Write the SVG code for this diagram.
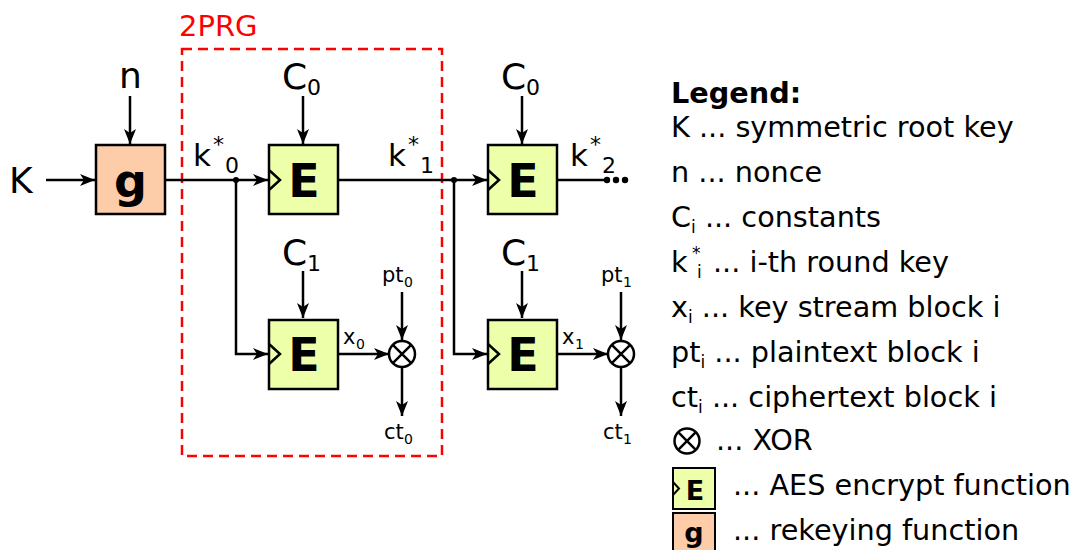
<svg xmlns="http://www.w3.org/2000/svg" width="1075" height="550" viewBox="0 0 1075 550">
<style>
text{font-family:"DejaVu Sans","Liberation Sans",sans-serif;fill:#000}
.big{font-size:36px}
.mid{font-size:31px}
.sm{font-size:21px}
.sub{font-size:22px}
.ssub{font-size:14px}
.leg{font-size:28.7px}
.lsub{font-size:17px}
.bold{font-weight:bold}
.ebox{fill:#eeffaa;stroke:#000;stroke-width:2.5}
.gbox{fill:#fdcca8;stroke:#000;stroke-width:2.5}
.clk{fill:none;stroke:#000;stroke-width:2.5}
.wire{fill:none;stroke:#000;stroke-width:2.5}
.arr{fill:none;stroke:#000;stroke-width:2.5;marker-end:url(#ah)}
.xor{fill:#fff;stroke:#000;stroke-width:2.5}
</style>
<defs>
<marker id="ah" markerWidth="16" markerHeight="12" refX="15" refY="6" orient="auto" markerUnits="userSpaceOnUse">
<path d="M0,0 L15,6 L0,12 L4,6 Z" fill="#000"/>
</marker>
</defs>

<g id="prg-frame">
<rect x="182" y="49" width="260" height="407" fill="none" stroke="#ff0000" stroke-width="2.5" stroke-dasharray="10,6"/>
<text x="179" y="36" style="font-size:29px;fill:#ff0000">2PRG</text>
</g>

<g id="connectors">
<path class="arr" d="M46,180 H95"/>
<path class="arr" d="M130,96 V144"/>
<path class="arr" d="M166,180 H268"/>
<path class="arr" d="M236,180 V354 H268"/>
<path class="arr" d="M303,96 V144"/>
<path class="arr" d="M303,271 V318"/>
<path class="wire" d="M339,180 H454"/>
<path class="arr" d="M454,180 H487"/>
<path class="arr" d="M454,180 V354 H487"/>
<path class="arr" d="M522,96 V144"/>
<path class="arr" d="M522,271 V318"/>
<path class="wire" d="M558,180 H604"/>
<path class="arr" d="M339,354 H389"/>
<path class="arr" d="M402,292 V340"/>
<path class="arr" d="M402,367 V416"/>
<path class="arr" d="M558,354 H608"/>
<path class="arr" d="M621,292 V340"/>
<path class="arr" d="M621,367 V416"/>
<circle cx="236" cy="180" r="3" fill="#000"/>
<circle cx="454" cy="180" r="3" fill="#000"/>
<circle cx="607" cy="180" r="3.2" fill="#000"/>
<circle cx="616" cy="180" r="3.2" fill="#000"/>
<circle cx="625" cy="180" r="3.2" fill="#000"/>
</g>

<g id="labels">
<text class="big" x="9" y="193">K</text>
<text class="big" x="119" y="88">n</text>
<text class="mid" x="193" y="166">k</text><text class="sub" x="213" y="152">*</text><text class="sub" x="225" y="173">0</text>
<text class="mid" x="388" y="166">k</text><text class="sub" x="408" y="152">*</text><text class="sub" x="420" y="173">1</text>
<text class="mid" x="570" y="166">k</text><text class="sub" x="590" y="152">*</text><text class="sub" x="602" y="173">2</text>
<text class="big" x="282" y="89">C</text><text class="sub" x="307" y="95">0</text>
<text class="big" x="282" y="265">C</text><text class="sub" x="307" y="271">1</text>
<text class="big" x="501" y="89">C</text><text class="sub" x="526" y="95">0</text>
<text class="big" x="501" y="265">C</text><text class="sub" x="526" y="271">1</text>
<text class="sm" x="343" y="344">x</text><text class="ssub" x="356" y="349">0</text>
<text class="sm" x="562" y="344">x</text><text class="ssub" x="575" y="349">1</text>
<text class="sm" x="382" y="282">pt</text><text class="ssub" x="404" y="287">0</text>
<text class="sm" x="601" y="282">pt</text><text class="ssub" x="623" y="287">1</text>
<text class="sm" x="384" y="439">ct</text><text class="ssub" x="404" y="444">0</text>
<text class="sm" x="603" y="439">ct</text><text class="ssub" x="623" y="444">1</text>
</g>

<g id="g-node">
<rect class="gbox" x="96" y="145" width="69" height="69"/>
<text x="130.5" y="197" text-anchor="middle" class="bold" style="font-size:46px">g</text>
</g>

<g id="E-0-0">
<rect class="ebox" x="269" y="145" width="69" height="69"/>
<path class="clk" d="M269,170 L280,180 L269,190"/>
<text x="304" y="197" text-anchor="middle" class="bold" style="font-size:46px">E</text>
</g>
<g id="E-0-1">
<rect class="ebox" x="269" y="320" width="69" height="69"/>
<path class="clk" d="M269,344 L280,354 L269,364"/>
<text x="304" y="371" text-anchor="middle" class="bold" style="font-size:46px">E</text>
</g>
<g id="E-1-0">
<rect class="ebox" x="488" y="145" width="69" height="69"/>
<path class="clk" d="M488,170 L499,180 L488,190"/>
<text x="523" y="197" text-anchor="middle" class="bold" style="font-size:46px">E</text>
</g>
<g id="E-1-1">
<rect class="ebox" x="488" y="320" width="69" height="69"/>
<path class="clk" d="M488,344 L499,354 L488,364"/>
<text x="523" y="371" text-anchor="middle" class="bold" style="font-size:46px">E</text>
</g>

<g id="xor-0">
<circle class="xor" cx="402" cy="354" r="13"/>
<path class="wire" d="M392.8,344.8 L411.2,363.2 M411.2,344.8 L392.8,363.2"/>
</g>
<g id="xor-1">
<circle class="xor" cx="621" cy="354" r="13"/>
<path class="wire" d="M611.8,344.8 L630.2,363.2 M630.2,344.8 L611.8,363.2"/>
</g>

<g id="legend">
<text class="leg bold" x="671" y="103">Legend:</text>
<text class="leg" x="671" y="137">K ... symmetric root key</text>
<text class="leg" x="671" y="182">n ... nonce</text>
<text class="leg" x="671" y="227">C<tspan class="lsub" dy="6">i</tspan><tspan dy="-6"> ... constants</tspan></text>
<text class="leg" x="671" y="272">k</text>
<text class="lsub" x="692" y="259">*</text>
<text class="lsub" x="697" y="278">i</text>
<text class="leg" x="713" y="272">... i-th round key</text>
<text class="leg" x="671" y="317">x<tspan class="lsub" dy="6">i</tspan><tspan dy="-6"> ... key stream block i</tspan></text>
<text class="leg" x="671" y="362">pt<tspan class="lsub" dy="6">i</tspan><tspan dy="-6"> ... plaintext block i</tspan></text>
<text class="leg" x="671" y="407">ct<tspan class="lsub" dy="6">i</tspan><tspan dy="-6"> ... ciphertext block i</tspan></text>
<circle cx="687" cy="441" r="12.5" fill="none" stroke="#000" stroke-width="2.5"/>
<path class="wire" d="M678.2,432.2 L695.8,449.8 M695.8,432.2 L678.2,449.8"/>
<text class="leg" x="716" y="450">... XOR</text>
<rect x="673" y="468" width="42" height="41" fill="#eeffaa" stroke="#000" stroke-width="2"/>
<path d="M673,482 L679,488.5 L673,495" fill="none" stroke="#000" stroke-width="2"/>
<text x="695" y="500" text-anchor="middle" class="bold" style="font-size:27px">E</text>
<text class="leg" x="733" y="495">... AES encrypt function</text>
<rect x="673" y="513" width="42" height="41" fill="#fdcca8" stroke="#000" stroke-width="2"/>
<text x="694" y="542" text-anchor="middle" class="bold" style="font-size:27px">g</text>
<text class="leg" x="733" y="540">... rekeying function</text>
</g>
</svg>
